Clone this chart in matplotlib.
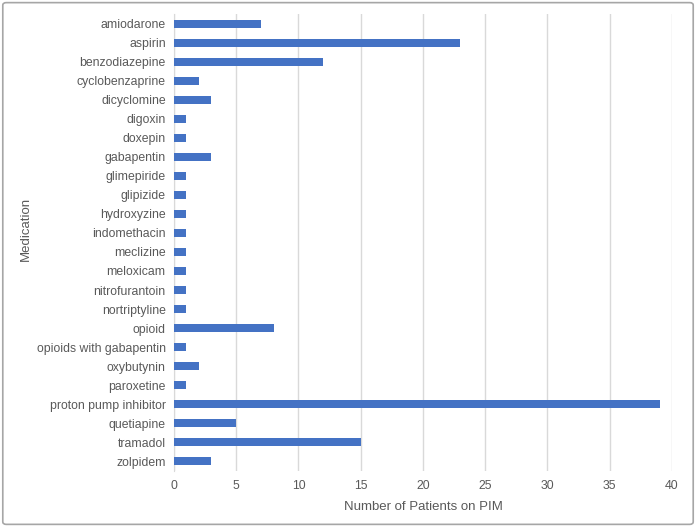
import matplotlib
matplotlib.use('Agg')
import matplotlib.pyplot as plt
from matplotlib.patches import FancyBboxPatch

plt.rcParams['font.family'] = ['Liberation Sans', 'DejaVu Sans']

# Medications and number of patients on each PIM
medications = ['amiodarone', 'aspirin', 'benzodiazepine', 'cyclobenzaprine', 'dicyclomine',
               'digoxin', 'doxepin', 'gabapentin', 'glimepiride', 'glipizide', 'hydroxyzine',
               'indomethacin', 'meclizine', 'meloxicam', 'nitrofurantoin', 'nortriptyline',
               'opioid', 'opioids with gabapentin', 'oxybutynin', 'paroxetine',
               'proton pump inhibitor', 'quetiapine', 'tramadol', 'zolpidem']
patients = [7, 23, 12, 2, 3, 1, 1, 3, 1, 1, 1, 1, 1, 1, 1, 1, 8, 1, 2, 1, 39, 5, 15, 3]
x_ticks = [0, 5, 10, 15, 20, 25, 30, 35, 40]

fig = plt.figure(figsize=(6.96, 5.27), dpi=100)
ax = fig.add_axes([0.25, 0.1072, 0.7155, 0.8653])

# grey frame round the whole chart
frame = FancyBboxPatch((0.004, 0.005), 0.992, 0.99, boxstyle='round,pad=0,rounding_size=0.005',
                       transform=fig.transFigure, facecolor='none', edgecolor='#A6A6A6', linewidth=1.2)
fig.patches.append(frame)

pos = list(range(len(medications)))
ax.barh(pos, patients, height=0.4, color='#4472C4', zorder=3)
ax.set_ylim(len(medications) - 0.5, -0.5)
ax.set_yticks(pos)
ax.set_yticklabels(medications)
ax.set_xlim(0, 40)
ax.set_xticks(x_ticks)

ax.grid(axis='x', color='#D9D9D9', linewidth=1)
for side in ['top', 'right', 'bottom']:
    ax.spines[side].set_visible(False)
ax.spines['left'].set_color('#D9D9D9')
ax.tick_params(length=0, labelsize=8.8, colors='#595959')
ax.tick_params(axis='y', pad=6)
ax.tick_params(axis='x', pad=7)

ax.set_xlabel('Number of Patients on PIM', fontsize=9.5, color='#595959', labelpad=6)
ax.set_ylabel('Medication', fontsize=9.5, color='#595959')
ax.yaxis.set_label_coords(-0.285, 0.53)

fig.savefig('out.png', dpi=100)
